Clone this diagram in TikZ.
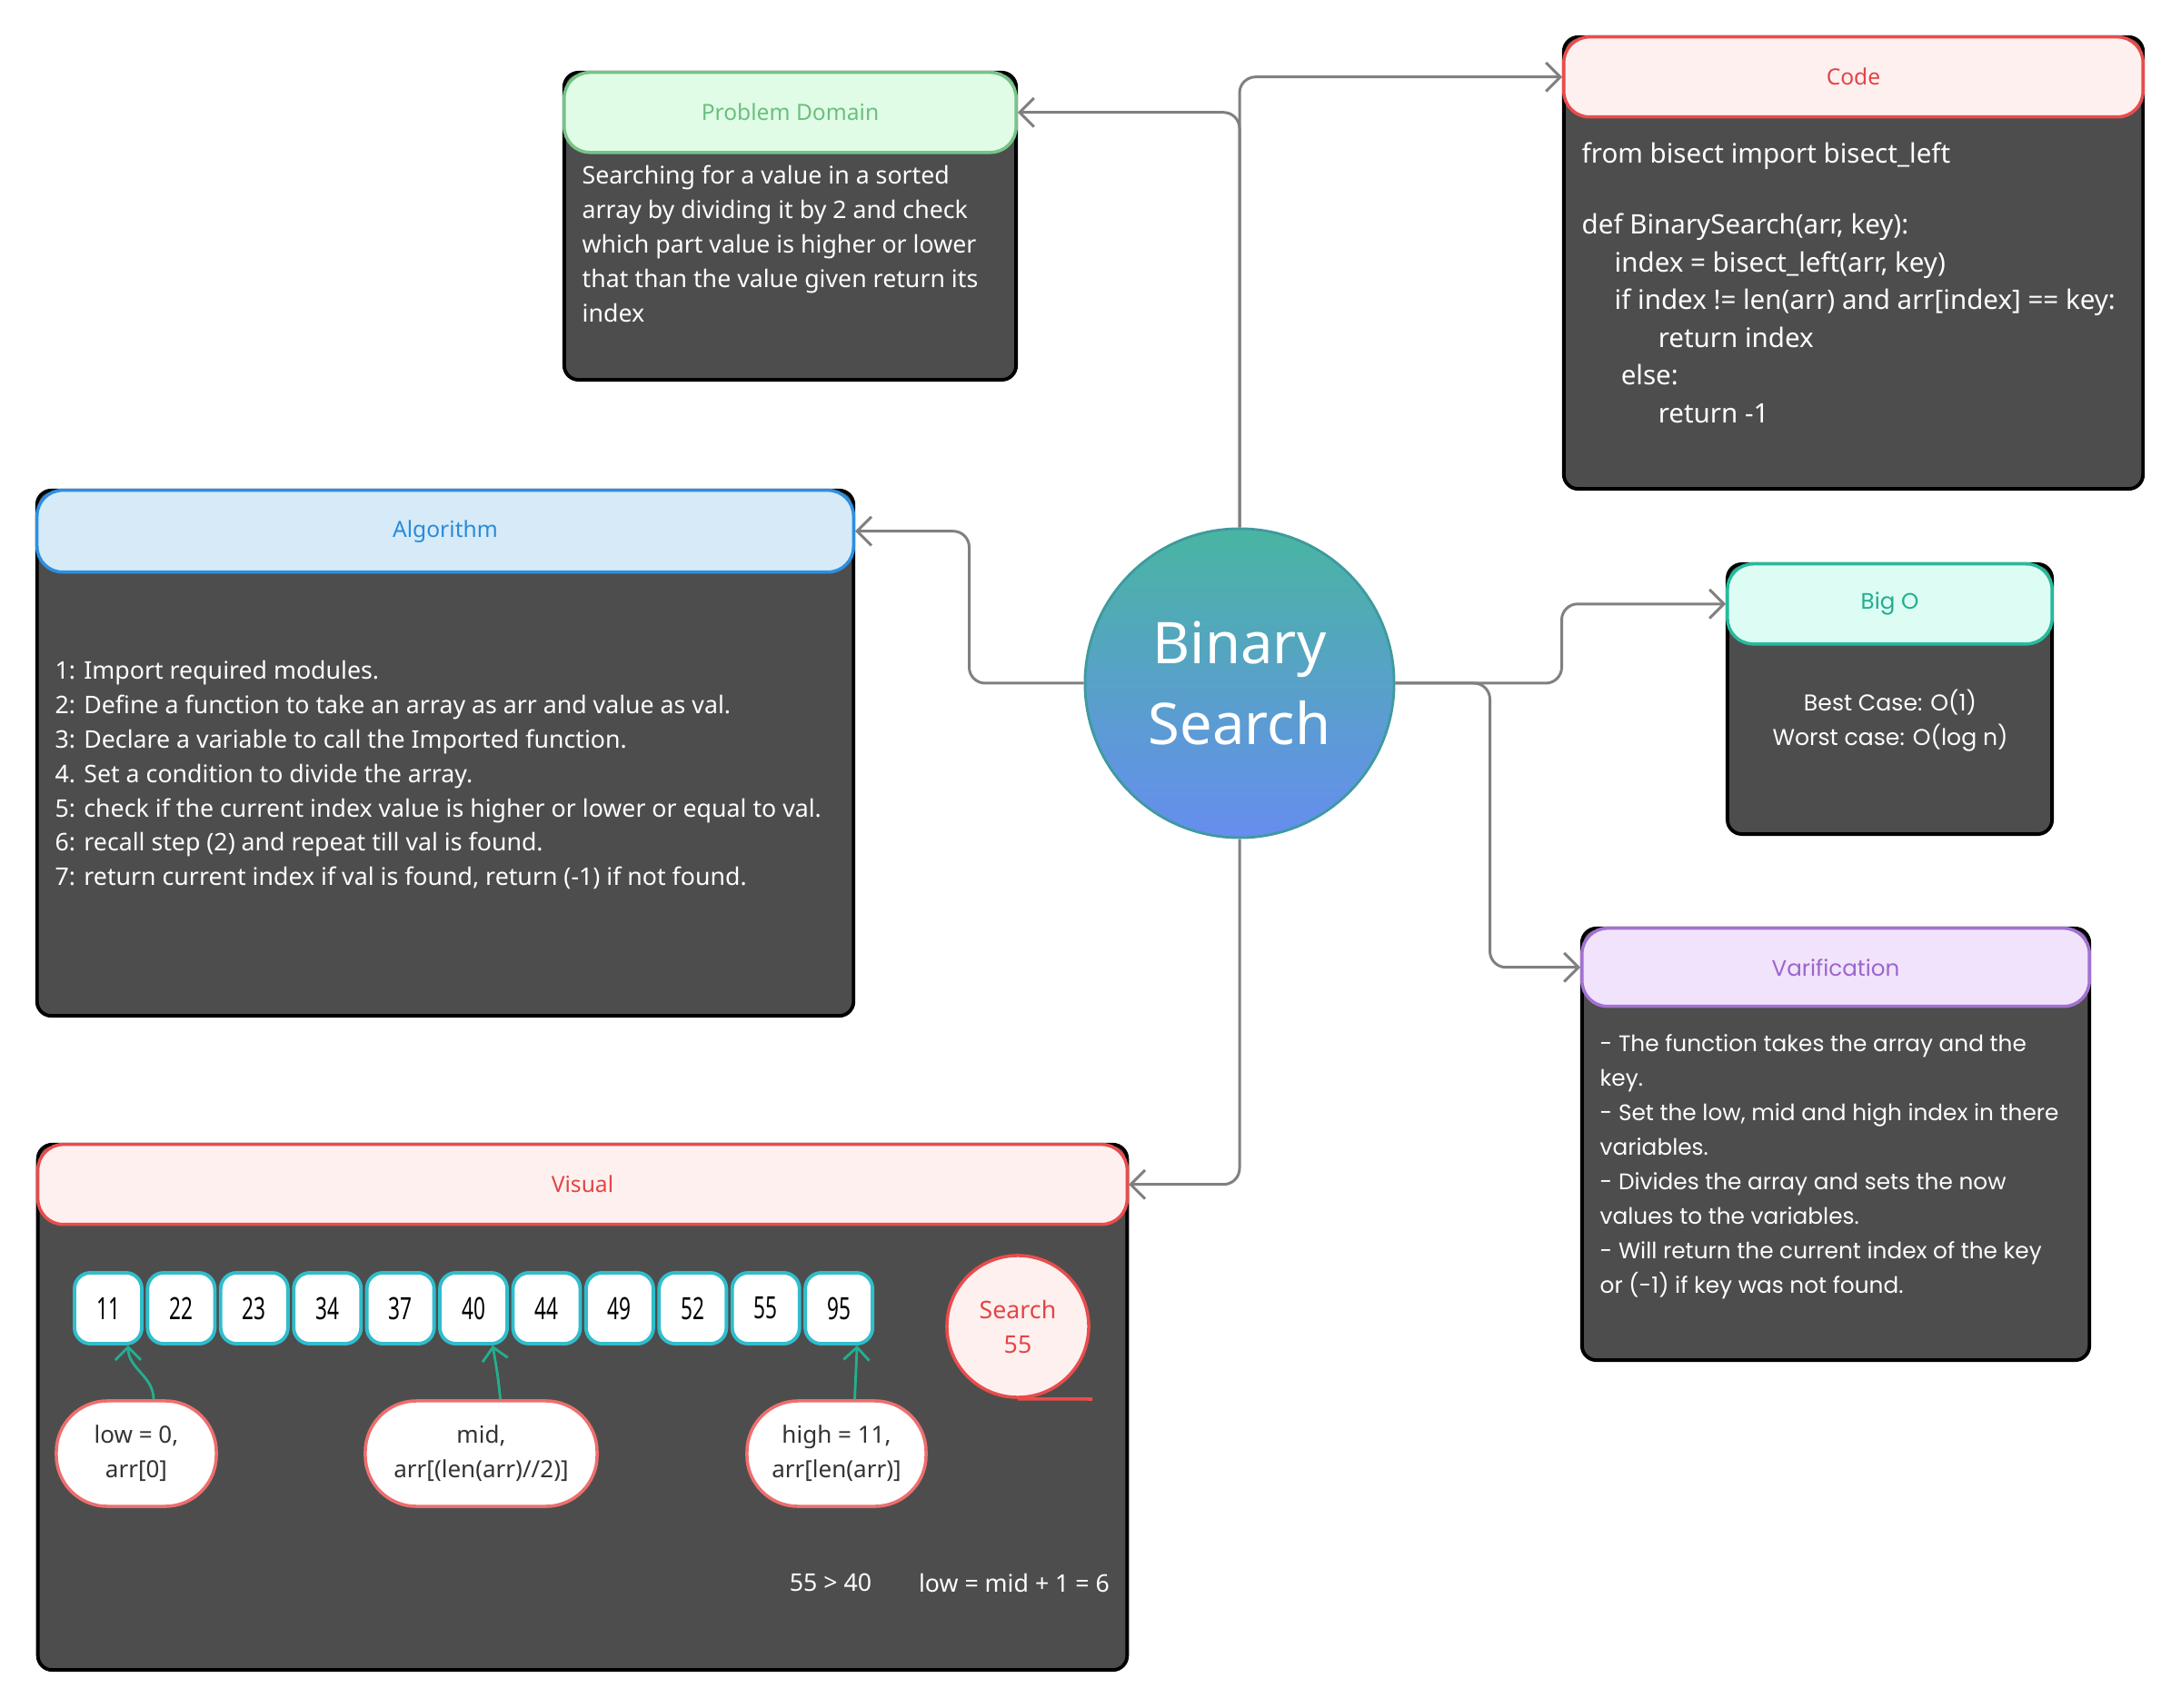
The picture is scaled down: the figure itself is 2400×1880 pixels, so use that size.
\documentclass[tikz,border=0pt]{standalone}
\usepackage{fontspec}
\setmainfont{Noto Sans}
\newfontfamily\popfont{Poppins}
\newfontfamily\narrowfont[FakeStretch=0.67]{Noto Sans}
\usetikzlibrary{arrows.meta,positioning}

\definecolor{cardgray}{HTML}{4D4D4D}
\definecolor{linkgray}{HTML}{808080}
\definecolor{redline}{HTML}{EA4C4C}
\definecolor{redfill}{HTML}{FFF0F0}
\definecolor{redtext}{HTML}{E34545}
\definecolor{greenline}{HTML}{76C488}
\definecolor{greenfill}{HTML}{E0FCE6}
\definecolor{greentext}{HTML}{6BBF7E}
\definecolor{blueline}{HTML}{2D8FE1}
\definecolor{bluefill}{HTML}{D6EAF8}
\definecolor{bluetext}{HTML}{2A8BD9}
\definecolor{tealline}{HTML}{26BB9B}
\definecolor{tealfill}{HTML}{DDFCF4}
\definecolor{tealtext}{HTML}{20AE8F}
\definecolor{purpline}{HTML}{A271D2}
\definecolor{purpfill}{HTML}{F1E3FC}
\definecolor{purptext}{HTML}{9B66CC}
\definecolor{celline}{HTML}{30BDCC}
\definecolor{pillline}{HTML}{EE6E6E}
\definecolor{ptrcol}{HTML}{22B08F}
\definecolor{bstop}{HTML}{49B5A2}
\definecolor{bsbot}{HTML}{668DEF}
\definecolor{bsedge}{HTML}{3F9A9E}

\begin{document}
\begin{tikzpicture}[
  x=0.01cm, y=-0.01cm,
  >={Straight Barb[length=4.5pt, width=9pt]},
  card/.style={rectangle, rounded corners=4.5pt, draw=black, fill=cardgray, line width=1.1pt, inner sep=0},
  head/.style={rectangle, rounded corners=8pt, line width=1pt, inner sep=0, anchor=north,
               font=\fontsize{7}{9}\selectfont},
  txt/.style={text=white, align=left, inner sep=0, anchor=west, font=\fontsize{7.6}{10.8}\selectfont},
  link/.style={->, line width=0.85pt, draw=linkgray, rounded corners=5pt},
  cell/.style={rectangle, rounded corners=5pt, draw=celline, fill=white, line width=1.1pt,
               minimum width=0.74cm, minimum height=0.78cm, inner sep=0,
               font=\narrowfont\fontsize{9.6}{10}\selectfont},
  pill/.style={rectangle, rounded corners=16pt, draw=pillline, fill=white, line width=1pt,
               minimum height=1.16cm, align=center, text=black!80, font=\fontsize{7.4}{10.8}\selectfont},
  ptr/.style={-{Straight Barb[length=4pt, width=8pt]}, line width=0.8pt, draw=ptrcol},
]
\useasboundingbox (0,0) rectangle (2400,1880);

% centre
\node[circle, minimum size=3.4cm, top color=bstop, bottom color=bsbot, draw=bsedge, line width=0.8pt,
      text=white, align=center, font=\fontsize{18}{25.3}\selectfont] (bs) at (1364,752) {Binary\\Search};

% problem domain
\node[card, minimum width=4.97cm, minimum height=3.38cm] (pd) at (869.5,249) {};
\node[head, draw=greenline, fill=greenfill, text=greentext, minimum width=4.97cm, minimum height=0.88cm] (pdh) at (pd.north) {Problem Domain};
\node[txt] (pdt) at (640,268) {Searching for a value  in a sorted\\array by dividing  it by 2 and check\\which part value is higher or lower\\that than the value given return its\\index};

% code
\node[card, minimum width=6.37cm, minimum height=4.97cm] (code) at (2039.5,289.5) {};
\node[head, draw=redline, fill=redfill, text=redtext, minimum width=6.37cm, minimum height=0.88cm] (codeh) at (code.north) {Code};
\node[txt, font=\fontsize{8.4}{11.8}\selectfont] (codet) at (1740,311) {from bisect import bisect\_left\\[10.5pt]def BinarySearch(arr, key):\\\hspace*{0.36cm}index = bisect\_left(arr, key)\\\hspace*{0.36cm}if index != len(arr) and arr[index] == key:\\\hspace*{0.84cm}return index\\\hspace*{0.43cm}else:\\\hspace*{0.84cm}return -1};

% algorithm
\node[card, minimum width=8.98cm, minimum height=5.78cm] (alg) at (490,829) {};
\node[head, draw=blueline, fill=bluefill, text=bluetext, minimum width=8.98cm, minimum height=0.9cm] (algh) at (alg.north) {Algorithm};
\node[txt] (algt) at (60,853) {1: Import required modules.\\2: Define a function to take an array as arr and  value as val.\\3: Declare a variable to call the Imported function.\\4. Set a condition to divide the array.\\5: check if the current index value is higher or lower or equal to val.\\6: recall step (2) and repeat till val is found.\\7: return current index if val is found, return (-1) if not found.};

% big o
\node[card, minimum width=3.57cm, minimum height=2.97cm] (bigo) at (2079.5,769.5) {};
\node[head, draw=tealline, fill=tealfill, text=tealtext, minimum width=3.57cm, minimum height=0.88cm, font=\popfont\fontsize{7}{9}\selectfont] (bigoh) at (bigo.north) {Big O};
\node[txt, align=center, anchor=center, font=\popfont\fontsize{7.15}{10.8}\selectfont] (bigot) at (2080,793) {Best Case: O(1)\\Worst case: O(log n)};

% varification
\node[card, minimum width=5.58cm, minimum height=4.75cm] (var) at (2020,1259.5) {};
\node[head, draw=purpline, fill=purpfill, text=purptext, minimum width=5.58cm, minimum height=0.86cm, font=\popfont\fontsize{7}{9}\selectfont] (varh) at (var.north) {Varification};
\node[txt, font=\popfont\fontsize{7.05}{10.8}\selectfont] (vart) at (1760,1284) {- The function takes the array and the\\key.\\- Set the low, mid and high index in there\\variables.\\- Divides the array and sets the now\\values to the variables.\\- Will return the current index of the key\\or (-1) if key was not found.};

% visual
\node[card, minimum width=11.98cm, minimum height=5.78cm] (vis) at (641,1549) {};
\node[head, draw=redline, fill=redfill, text=redtext, minimum width=11.98cm, minimum height=0.88cm] (vish) at (vis.north) {Visual};

\node[cell] (c1) at (119,1440) {11};
\node[cell, right=0.025cm of c1] (c2) {22};
\node[cell, right=0.025cm of c2] (c3) {23};
\node[cell, right=0.025cm of c3] (c4) {34};
\node[cell, right=0.025cm of c4] (c5) {37};
\node[cell, right=0.025cm of c5] (c6) {40};
\node[cell, right=0.025cm of c6] (c7) {44};
\node[cell, right=0.025cm of c7] (c8) {49};
\node[cell, right=0.025cm of c8] (c9) {52};
\node[cell, right=0.025cm of c9] (c10) {55};
\node[cell, right=0.025cm of c10] (c11) {95};

\node[circle, minimum size=1.56cm, draw=redline, fill=redfill, line width=1pt, text=redtext, align=center,
      font=\fontsize{7.6}{10.8}\selectfont] (srch) at (1120,1460) {Search\\55};
\coordinate (srchend) at (1202,1540);
\draw[redline, line width=1pt] (srch.south) -- (srchend);

\node[pill, minimum width=1.76cm] (lo) at (150,1600) {low = 0,\\arr[0]};
\node[pill, minimum width=2.55cm] (mi) at (529.5,1600) {mid,\\arr[(len(arr)//2)]};
\node[pill, minimum width=1.97cm] (hi) at (920.5,1600) {high = 11,\\arr[len(arr)]};

\draw[ptr] ([xshift=0.19cm]lo.north) to[out=90, in=-90] ([xshift=0.22cm]c1.south);
\draw[ptr] ([xshift=0.21cm]mi.north) to[out=95, in=-80] ([xshift=0.21cm]c6.south);
\draw[ptr] ([xshift=0.2cm]hi.north) -- ([xshift=0.2cm]c11.south);

\node[txt, anchor=center] (cmp) at (914,1742) {55 > 40};
\node[txt, anchor=center] (upd) at (1116,1742) {low = mid + 1 = 6};

% links
\draw[link] (bs.north) |- (codeh.west);
\draw[link] (bs.north) |- (pdh.east);
\draw[link] (bs.west) -- ++(-126,0) |- (algh.east);
\draw[link] (bs.east) -- ++(183,0) |- (bigoh.west);
\draw[link] (bs.east) -- ++(104,0) |- (varh.west);
\draw[link] (bs.south) |- (vish.east);

\end{tikzpicture}
\end{document}
